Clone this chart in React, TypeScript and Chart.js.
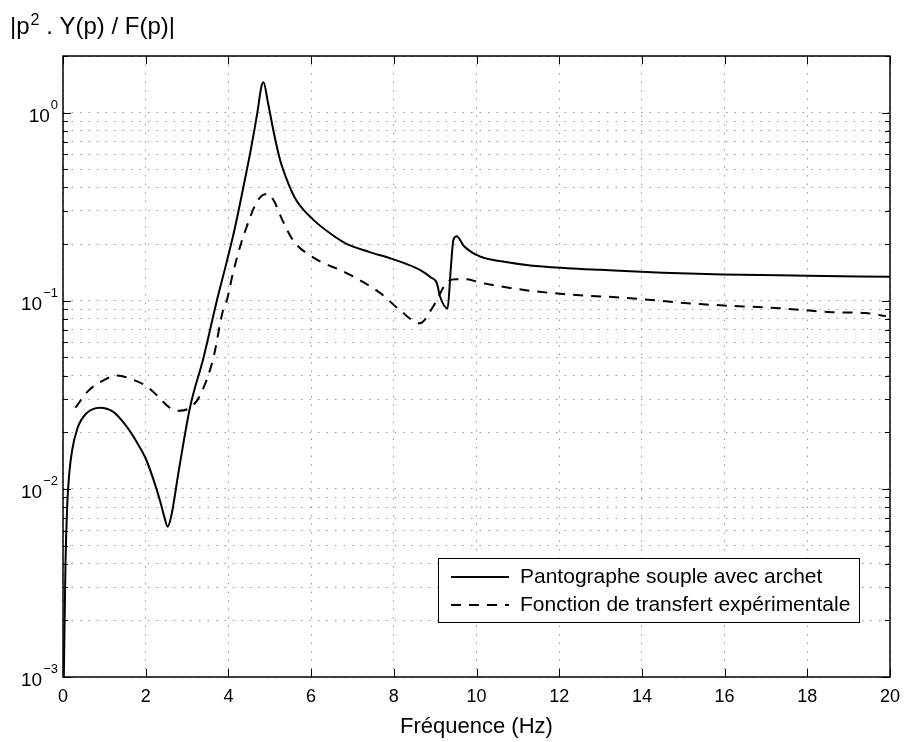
import React, { useEffect, useRef } from 'react';
import { Chart, registerables } from 'chart.js';

Chart.register(...registerables);

// ---- data ----
const solidFreq = [0.02, 0.06, 0.1, 0.15, 0.22, 0.35, 0.55, 0.9, 1.2, 1.5, 1.8, 2.0, 2.2, 2.35, 2.45, 2.53, 2.62, 2.8, 3.07, 3.4, 3.72, 3.95, 4.15, 4.35, 4.55, 4.7, 4.8, 4.85, 4.95, 5.1, 5.25, 5.45, 5.65, 6.05, 6.5, 6.87, 7.4, 7.96, 8.3, 8.63, 8.9, 9.04, 9.12, 9.3, 9.38, 9.44, 9.52, 9.7, 10.08, 10.6, 11.3, 12.2, 13.0, 14.5, 15.96, 18.0, 20.0];
const solidMag = [0.001, 0.004, 0.008, 0.012, 0.016, 0.021, 0.025, 0.027, 0.0258, 0.022, 0.0175, 0.0145, 0.011, 0.0086, 0.0071, 0.0063, 0.0072, 0.0125, 0.027, 0.05, 0.1, 0.158, 0.24, 0.39, 0.65, 1.0, 1.38, 1.45, 1.15, 0.78, 0.56, 0.42, 0.34, 0.27, 0.225, 0.2, 0.182, 0.167, 0.157, 0.146, 0.133, 0.124, 0.105, 0.091, 0.15, 0.21, 0.22, 0.195, 0.172, 0.162, 0.154, 0.149, 0.146, 0.141, 0.138, 0.136, 0.134];

const dashFreq = [0.3, 0.6, 1.0, 1.3, 1.7, 2.03, 2.3, 2.58, 2.8, 3.07, 3.3, 3.63, 3.87, 3.96, 4.11, 4.3, 4.45, 4.64, 4.8, 4.95, 5.1, 5.3, 5.56, 6.05, 6.87, 7.67, 8.15, 8.63, 8.95, 9.28, 9.5, 9.77, 10.08, 11.3, 12.5, 13.5, 15.4, 17.4, 18.6, 19.4, 19.9];
const dashMag = [0.027, 0.033, 0.038, 0.040, 0.038, 0.035, 0.031, 0.027, 0.026, 0.027, 0.031, 0.049, 0.089, 0.1, 0.14, 0.2, 0.25, 0.32, 0.36, 0.37, 0.34, 0.27, 0.21, 0.17, 0.14, 0.11, 0.089, 0.076, 0.093, 0.125, 0.13, 0.13, 0.125, 0.113, 0.107, 0.104, 0.096, 0.091, 0.087, 0.086, 0.083];

const xTicks = [0, 2, 4, 6, 8, 10, 12, 14, 16, 18, 20];
const yDecades = [-3, -2, -1, 0];
const seriesLabels = ['Pantographe souple avec archet', 'Fonction de transfert expérimentale'];
const xTitle = 'Fréquence (Hz)';
const yTitleParts = ['|p', '2', ' . Y(p) / F(p)|'];

const FONT = '"Liberation Sans", Arial, Helvetica, sans-serif';

const decorPlugin = {
  id: 'decor',
  afterDraw(chart: any) {
    const { ctx, chartArea } = chart;
    const { left, right, top, bottom } = chartArea;
    const xs = chart.scales.x;
    const ys = chart.scales.y;
    ctx.save();
    ctx.strokeStyle = '#000';
    ctx.fillStyle = '#000';
    // inner ticks
    ctx.lineWidth = 1;
    ctx.beginPath();
    xTicks.forEach((v) => {
      const p = Math.round(xs.getPixelForValue(v)) + 0.5;
      ctx.moveTo(p, bottom);
      ctx.lineTo(p, bottom - 8);
      ctx.moveTo(p, top);
      ctx.lineTo(p, top + 8);
    });
    yDecades.forEach((d) => {
      for (let m = 1; m <= 9; m++) {
        const v = m * Math.pow(10, d);
        if (v > ys.max + 1e-12) continue;
        const p = Math.round(ys.getPixelForValue(v)) + 0.5;
        const len = m === 1 ? 8 : 5;
        ctx.moveTo(left, p);
        ctx.lineTo(left + len, p);
        ctx.moveTo(right, p);
        ctx.lineTo(right - len, p);
      }
    });
    ctx.stroke();
    // frame
    ctx.lineWidth = 1.5;
    ctx.strokeRect(left, top, right - left, bottom - top);

    // y tick labels with superscript
    yDecades.forEach((d) => {
      const p = ys.getPixelForValue(Math.pow(10, d));
      const exp = d === 0 ? '0' : '\u2212' + String(-d);
      ctx.font = `13px ${FONT}`;
      const ew = ctx.measureText(exp).width;
      ctx.textAlign = 'left';
      ctx.textBaseline = 'alphabetic';
      const ex = left - 5 - ew;
      ctx.fillText(exp, ex, p - 4);
      ctx.font = `19px ${FONT}`;
      ctx.textAlign = 'right';
      ctx.fillText('10', ex - 1, p + 9);
    });

    // y title (top-left)
    ctx.textAlign = 'left';
    ctx.textBaseline = 'alphabetic';
    let tx = 10;
    const ty = 34;
    ctx.font = `24px ${FONT}`;
    ctx.fillText(yTitleParts[0], tx, ty);
    tx += ctx.measureText(yTitleParts[0]).width + 1;
    ctx.font = `16px ${FONT}`;
    ctx.fillText(yTitleParts[1], tx, ty - 9);
    tx += ctx.measureText(yTitleParts[1]).width;
    ctx.font = `24px ${FONT}`;
    ctx.fillText(yTitleParts[2], tx, ty);

    // legend
    const lx = right - 452;
    const lw = 421;
    const lh = 64;
    const ly = bottom - 55 - lh;
    ctx.fillStyle = '#fff';
    ctx.fillRect(lx, ly, lw, lh);
    ctx.strokeStyle = '#000';
    ctx.lineWidth = 1;
    ctx.strokeRect(lx + 0.5, ly + 0.5, lw, lh);
    const rows = [ly + 19, ly + 47];
    ctx.lineWidth = 2;
    ctx.beginPath();
    ctx.setLineDash([]);
    ctx.moveTo(lx + 13, rows[0]);
    ctx.lineTo(lx + 71, rows[0]);
    ctx.stroke();
    ctx.beginPath();
    ctx.setLineDash([10, 8]);
    ctx.moveTo(lx + 13, rows[1]);
    ctx.lineTo(lx + 71, rows[1]);
    ctx.stroke();
    ctx.setLineDash([]);
    ctx.fillStyle = '#000';
    ctx.font = `21px ${FONT}`;
    ctx.textAlign = 'left';
    ctx.textBaseline = 'middle';
    ctx.fillText(seriesLabels[0], lx + 82, rows[0]);
    ctx.fillText(seriesLabels[1], lx + 82, rows[1]);
    ctx.restore();
  },
};

export default function App() {
  const ref = useRef<HTMLCanvasElement | null>(null);
  useEffect(() => {
    if (!ref.current) return;
    const chart = new Chart(ref.current, {
      type: 'line',
      data: {
        datasets: [
          {
            label: seriesLabels[0],
            data: solidFreq.map((f, i) => ({ x: f, y: solidMag[i] })),
            borderColor: '#000',
            borderWidth: 2,
            pointRadius: 0,
            cubicInterpolationMode: 'monotone',
            fill: false,
          },
          {
            label: seriesLabels[1],
            data: dashFreq.map((f, i) => ({ x: f, y: dashMag[i] })),
            borderColor: '#000',
            borderWidth: 2,
            borderDash: [10, 8],
            pointRadius: 0,
            cubicInterpolationMode: 'monotone',
            fill: false,
          },
        ],
      },
      options: {
        animation: false,
        responsive: false,
        layout: { padding: { left: 0, right: 26, top: 56, bottom: 0 } },
        plugins: { legend: { display: false }, title: { display: false }, tooltip: { enabled: false } },
        scales: {
          x: {
            type: 'linear',
            min: 0,
            max: 20,
            afterBuildTicks: (s: any) => {
              s.ticks = xTicks.map((v) => ({ value: v }));
            },
            afterFit: (s: any) => {
              s.height = 65;
            },
            grid: { color: '#999999', lineWidth: 1, drawTicks: false },
            border: { display: false, dash: [1.5, 7] },
            ticks: {
              autoSkip: false,
              maxRotation: 0,
              padding: 9,
              color: '#000',
              font: { family: FONT, size: 18 },
            },
            title: {
              display: true,
              text: xTitle,
              color: '#000',
              font: { family: FONT, size: 22 },
              padding: { top: 0, bottom: 2 },
            },
          },
          y: {
            type: 'logarithmic',
            min: 0.001,
            max: 2,
            afterBuildTicks: (s: any) => {
              const t: any[] = [];
              yDecades.forEach((d) => {
                for (let m = 1; m <= 9; m++) {
                  const v = m * Math.pow(10, d);
                  if (v <= 2 + 1e-9) t.push({ value: v });
                }
              });
              s.ticks = t;
            },
            afterFit: (s: any) => {
              s.width = 63;
            },
            grid: { color: '#999999', lineWidth: 1, drawTicks: false },
            border: { display: false, dash: [1.5, 7] },
            ticks: { display: false },
          },
        },
      },
      plugins: [decorPlugin],
    });
    return () => chart.destroy();
  }, []);
  return (
    <div style={{ position: 'fixed', left: 0, top: 0, width: 916, height: 742, background: '#fff' }}>
      <canvas ref={ref} width={916} height={742} style={{ display: 'block' }} />
    </div>
  );
}
